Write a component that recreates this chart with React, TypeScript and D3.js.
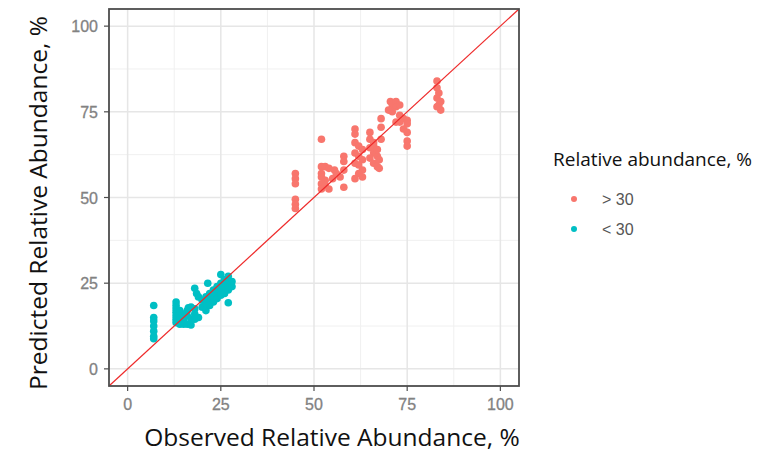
import React from 'react';
import * as d3 from 'd3';

// observed, predicted (%)
const highPoints: [number, number][] = [
  [45, 57], [45, 55.5], [45, 54], [45, 49.5], [45, 48], [45, 46.8],
  [52, 67],
  [52, 59], [53, 59], [54, 58.5], [52, 57], [52, 56], [53, 55], [52, 54], [53, 53.5], [54, 52.5], [52, 52.5],
  [55.5, 58], [56, 57], [55, 55.5],
  [58, 62], [58, 60.5], [58, 58], [57, 56], [58, 53],
  [61, 70], [61, 68.5], [61, 66], [62, 65], [63, 64], [61, 63], [62, 62], [63, 61], [61, 60], [62, 59.5],
  [63, 58], [62, 57], [61, 55.5], [63, 56],
  [65, 69], [65, 67], [66, 66], [65, 64.5], [66, 63], [67, 62], [65, 61.5], [66, 60], [67, 59],
  [67.5, 61], [67.5, 58.5], [66, 65], [67, 64],
  [68, 73], [68, 70.5], [68, 67],
  [70.5, 78], [71, 77], [72, 78], [72, 76.5], [73, 77], [71, 75], [70, 75.5],
  [73, 74], [74, 73], [75, 72.5], [75, 71.5], [74, 70], [75, 69], [75, 66.5], [75, 65], [73, 72], [72, 72],
  [83, 84], [83, 82], [83.5, 80.5], [83, 79], [84, 78], [83.5, 77], [84, 75.5], [83, 76.5],
];

const lowPoints: [number, number][] = [
  [7, 18.5], [7, 15], [7, 14], [7, 12.5], [7, 11], [7, 9.5], [7, 8.8],
  [13, 19.5], [13, 18.5], [13, 17.5], [13, 16.5], [13, 15.5], [13, 14.5], [13, 13.5],
  [14, 13], [14, 15], [14, 17], [15, 14], [15, 16], [15, 13], [16, 15.5], [16, 13],
  [17, 14.5], [17, 12.8], [16, 17], [17, 18], [18, 17.5], [18, 16], [19, 15], [18, 14.5],
  [18, 23.5], [18.5, 22], [19, 21], [16.3, 17.8], [21.5, 25],
  [20, 20], [20, 18], [21, 19], [21, 21], [21, 17], [22, 20], [22, 22], [22, 18.5],
  [23, 21], [23, 23], [23, 19.5], [24, 22], [24, 24], [24, 20.5], [25, 23], [25, 25],
  [25, 27.5], [25, 21.5], [26, 24], [26, 26], [26, 22], [27, 25], [27, 27], [27, 23],
  [27, 24], [28, 25.5], [28, 24], [27, 19.3],
];

const tickValues = [0, 25, 50, 75, 100];
const minorValues = [12.5, 37.5, 62.5, 87.5];
const legendLabels = ['> 30', '< 30'];
const legendColors = ['#F8766D', '#00BFC4'];

export default function App() {
  const x = d3.scaleLinear().domain([-5, 105]).range([109, 519]);
  const y = d3.scaleLinear().domain([-5, 105]).range([386, 9]);
  const [x0, x1] = x.range();
  const [y0, y1] = y.range();

  const tickFont = '"Liberation Sans", Arial, sans-serif';
  const titleFont = '"Open Sans", Lato, sans-serif';

  return (
    <svg width={770} height={453} style={{ position: 'absolute', left: 0, top: 0, background: '#fff' }}>
      {/* grid */}
      {minorValues.map(v => (
        <g key={'m' + v}>
          <line x1={x(v)} x2={x(v)} y1={y1} y2={y0} stroke="#f0f0f0" strokeWidth={1} />
          <line x1={x0} x2={x1} y1={y(v)} y2={y(v)} stroke="#f0f0f0" strokeWidth={1} />
        </g>
      ))}
      {tickValues.map(v => (
        <g key={'g' + v}>
          <line x1={x(v)} x2={x(v)} y1={y1} y2={y0} stroke="#e6e6e6" strokeWidth={1.5} />
          <line x1={x0} x2={x1} y1={y(v)} y2={y(v)} stroke="#e6e6e6" strokeWidth={1.5} />
        </g>
      ))}

      {/* points */}
      {highPoints.map((d, i) => (
        <circle key={'h' + i} cx={x(d[0])} cy={y(d[1])} r={3.8} fill="#F8766D" />
      ))}
      {lowPoints.map((d, i) => (
        <circle key={'l' + i} cx={x(d[0])} cy={y(d[1])} r={3.8} fill="#00BFC4" />
      ))}

      {/* identity line */}
      <line x1={x(-5)} y1={y(-5)} x2={x(105)} y2={y(105)} stroke="#ee2a2a" strokeWidth={1.2} />

      {/* panel border */}
      <rect x={x0} y={y1} width={x1 - x0} height={y0 - y1} fill="none" stroke="#4d4d4d" strokeWidth={1.8} />

      {/* x axis */}
      {tickValues.map(v => (
        <g key={'xt' + v}>
          <line x1={x(v)} x2={x(v)} y1={y0} y2={y0 + 5} stroke="#4d4d4d" strokeWidth={1.2} />
          <text x={x(v)} y={y0 + 24} textAnchor="middle" fontFamily={tickFont} fontSize={16} fill="#828282" stroke="#828282" strokeWidth={0.3}>{v}</text>
        </g>
      ))}
      {/* y axis */}
      {tickValues.map(v => (
        <g key={'yt' + v}>
          <line x1={x0 - 5} x2={x0} y1={y(v)} y2={y(v)} stroke="#4d4d4d" strokeWidth={1.2} />
          <text x={x0 - 11} y={y(v) + 6} textAnchor="end" fontFamily={tickFont} fontSize={16} fill="#828282" stroke="#828282" strokeWidth={0.3}>{v}</text>
        </g>
      ))}

      {/* axis titles */}
      <text x={332} y={446} textAnchor="middle" fontFamily={titleFont} fontSize={24.5} fill="#111">
        Observed Relative Abundance, %
      </text>
      <text transform={`translate(47, 203) rotate(-90)`} textAnchor="middle" fontFamily={titleFont} fontSize={24.5} fill="#111">
        Predicted Relative Abundance, %
      </text>

      {/* legend */}
      <text x={553} y={166} fontFamily={titleFont} fontSize={19} fill="#111">Relative abundance, %</text>
      {legendLabels.map((lab, i) => (
        <g key={lab}>
          <circle cx={574} cy={199 + i * 30} r={3} fill={legendColors[i]} />
          <text x={602} y={205 + i * 30} fontFamily={tickFont} fontSize={16} fill="#555">{lab}</text>
        </g>
      ))}
    </svg>
  );
}
